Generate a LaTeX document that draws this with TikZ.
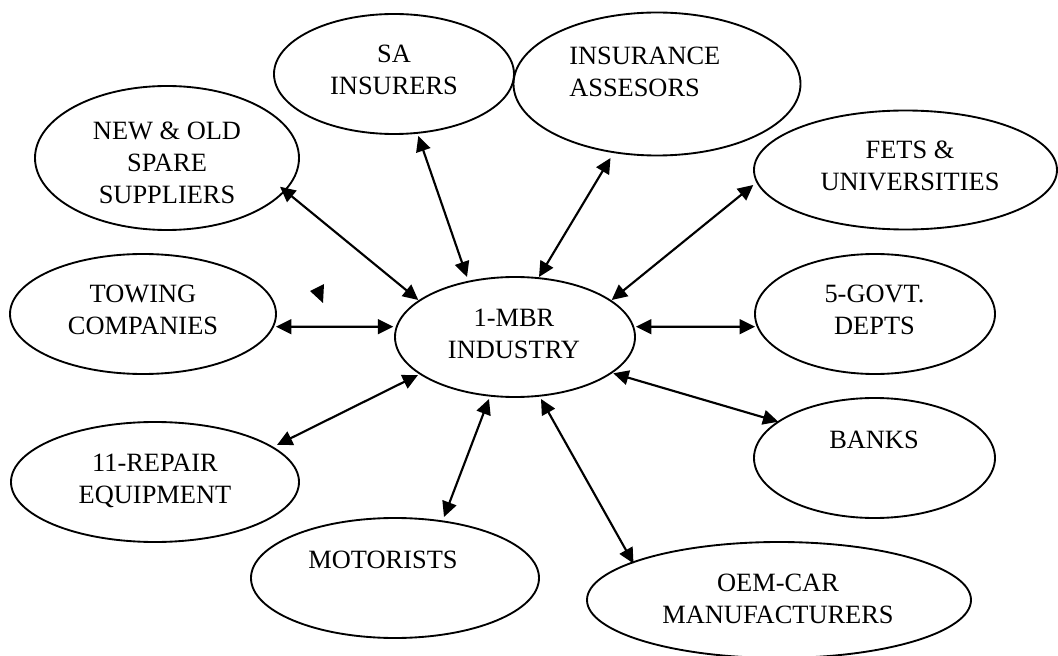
\documentclass[tikz,border=0pt]{standalone}
\usepackage{fontspec}
\setmainfont{Liberation Serif}
\usetikzlibrary{arrows.meta,shapes.geometric,calc}
\newcommand{\mylines}[2][c]{\begin{tabular}[t]{@{}#1@{}}#2\end{tabular}}
\begin{document}
\begin{tikzpicture}[x=0.75pt,y=-0.75pt,
  oval/.style={ellipse, draw, line width=1.4pt, inner sep=0pt, outer sep=0pt},
  txt/.style={inner sep=0pt, font=\fontsize{19.8}{24}\selectfont, anchor=base},
  link/.style={>={Triangle[length=11.5pt,width=11pt]}, <->, line width=1.6pt}]
\useasboundingbox (0,0) rectangle (1058,656);

% ellipses
\node[oval, minimum width=180pt,    minimum height=90pt]    (sa)     at (394,74)    {};
\node[oval, minimum width=215.25pt, minimum height=107.25pt](ins)    at (657,84)    {};
\node[oval, minimum width=198pt,    minimum height=108pt]   (spare)  at (167,158)   {};
\node[oval, minimum width=227.25pt, minimum height=89.25pt] (fets)   at (905.5,170) {};
\node[oval, minimum width=199.5pt,  minimum height=90pt]    (towing) at (143,314)   {};
\node[oval, minimum width=180pt,    minimum height=90pt]    (mbr)    at (515,337)   {};
\node[oval, minimum width=180pt,    minimum height=90pt]    (govt)   at (875,314)   {};
\node[oval, minimum width=180.75pt, minimum height=90pt]    (banks)  at (874.5,458) {};
\node[oval, minimum width=216pt,    minimum height=90pt]    (repair) at (155,482)   {};
\node[oval, minimum width=216pt,    minimum height=90pt]    (motor)  at (395,578)   {};
\node[oval, minimum width=288pt,    minimum height=87pt]    (oem)    at (779,600)   {};

% texts
\node[txt] (sa-t)     at (394,63)  {\mylines{SA\\INSURERS}};
\node[txt, anchor=base west] (ins-t) at (569,65) {\mylines[l]{INSURANCE\\ASSESORS}};
\node[txt] (spare-t)  at (167,140) {\mylines{NEW \& OLD\\SPARE\\SUPPLIERS}};
\node[txt] (fets-t)   at (910,159) {\mylines{FETS \&\\UNIVERSITIES}};
\node[txt] (towing-t) at (143,303) {\mylines{TOWING\\COMPANIES}};
\node[txt] (mbr-t)    at (514,327) {\mylines{1-MBR\\INDUSTRY}};
\node[txt] (govt-t)   at (874.5,303) {\mylines{5-GOVT.\\DEPTS}};
\node[txt] (banks-t)  at (874,448) {BANKS};
\node[txt] (repair-t) at (155,471) {\mylines{11-REPAIR\\EQUIPMENT}};
\node[txt] (motor-t)  at (383,568) {MOTORISTS};
\node[txt] (oem-t)    at (778,591) {\mylines{OEM-CAR\\MANUFACTURERS}};

% connectors
\draw[link] ($(sa)+(24.3,62)$)        -- ($(mbr)+(-48,-60)$);
\draw[link] ($(ins)+(-46.5,74)$)      -- ($(mbr)+(24,-60)$);
\draw[link] ($(spare)+(113,28.7)$)    -- ($(mbr)+(-96.7,-37)$);
\draw[link] ($(fets)+(-152.2,15)$)    -- ($(mbr)+(96.7,-37)$);
\draw[link] ($(towing)+(133,12.7)$)   -- ($(mbr)+(-121.7,-10.3)$);
\draw[link] ($(mbr)+(121,-10.3)$)     -- ($(govt)+(-120,12.7)$);
\draw[link] ($(mbr)+(98.3,36.3)$)     -- ($(banks)+(-96.2,-36.3)$);
\draw[link] ($(repair)+(122,-37)$)    -- ($(mbr)+(-97,38)$);
\draw[link] ($(motor)+(49,-61)$)      -- ($(mbr)+(-26,62)$);
\draw[link] ($(mbr)+(26,62)$)         -- ($(oem)+(-145.5,-36.5)$);

% stray arrowhead
\fill (310,291) -- (324,284) -- (323,303) -- cycle;
\end{tikzpicture}
\end{document}
